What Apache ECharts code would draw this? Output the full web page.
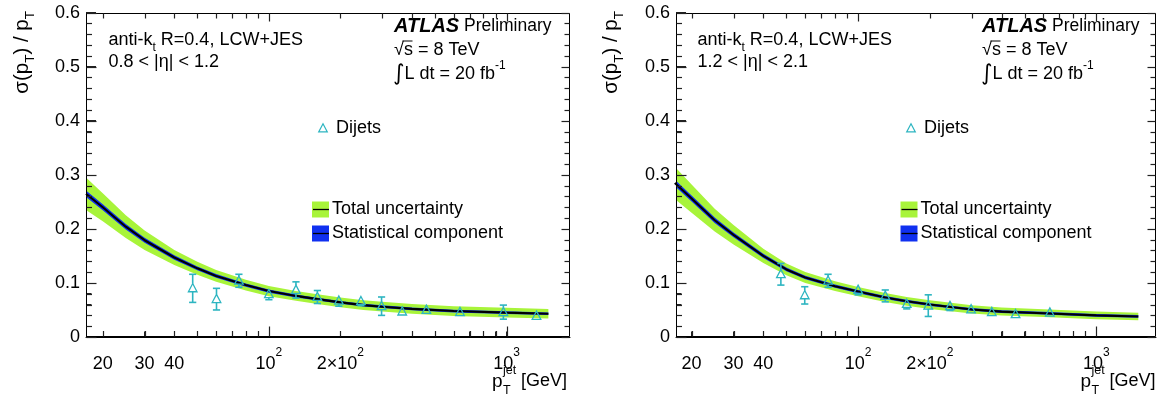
<!DOCTYPE html>
<html><head><meta charset="utf-8">
<script src="https://cdn.jsdelivr.net/npm/echarts@6/dist/echarts.min.js"></script>
<style>html,body{margin:0;padding:0;background:#fff}#c{width:1166px;height:399px}</style>
</head><body><div id="c"></div>
<script>
// ---------------- data ----------------
const curvePt   = [17, 20, 25, 30, 40, 50, 60, 80, 100, 130, 160, 200, 250, 300, 400, 600, 1000, 1500];
const centralL  = [0.265, 0.240, 0.204, 0.179, 0.147, 0.127, 0.113, 0.096, 0.085, 0.076, 0.070, 0.064, 0.059, 0.056, 0.052, 0.048, 0.045, 0.043];
const totErrL   = [0.030, 0.026, 0.021, 0.018, 0.014, 0.012, 0.011, 0.010, 0.0095, 0.009, 0.009, 0.009, 0.009, 0.009, 0.009, 0.009, 0.009, 0.0088];
const statErrL  = [0.006, 0.0055, 0.005, 0.0045, 0.004, 0.0035, 0.0033, 0.003, 0.003, 0.0028, 0.0027, 0.0026, 0.0025, 0.0025, 0.0025, 0.0025, 0.0025, 0.0025];
const centralR  = [0.285, 0.256, 0.216, 0.189, 0.150, 0.125, 0.110, 0.094, 0.084, 0.073, 0.066, 0.060, 0.055, 0.051, 0.047, 0.044, 0.040, 0.038];
const totErrR   = [0.030, 0.026, 0.021, 0.018, 0.013, 0.011, 0.010, 0.009, 0.0085, 0.0082, 0.008, 0.008, 0.0078, 0.0076, 0.0074, 0.0072, 0.007, 0.007];
const statErrR  = [0.006, 0.0055, 0.005, 0.0045, 0.004, 0.0035, 0.0033, 0.003, 0.003, 0.0028, 0.0027, 0.0026, 0.0025, 0.0025, 0.0025, 0.0025, 0.0025, 0.0025];

const dijetPtL  = [47.8, 60.2, 74.8, 100, 130, 160, 197, 244, 298, 364, 460, 637, 970, 1337];
const dijetValL = [0.090, 0.070, 0.104, 0.079, 0.087, 0.074, 0.067, 0.066, 0.057, 0.047, 0.050, 0.046, 0.046, 0.039];
const dijetErrL = [0.026, 0.020, 0.012, 0.010, 0.015, 0.012, 0.010, 0.008, 0.017, 0.007, 0.006, 0.006, 0.013, 0.006];
const dijetPtR  = [47.4, 59.7, 74.8, 100, 130, 160, 197, 243, 298, 364, 458, 638];
const dijetValR = [0.116, 0.077, 0.104, 0.087, 0.076, 0.061, 0.058, 0.057, 0.051, 0.046, 0.042, 0.045];
const dijetErrR = [0.020, 0.016, 0.012, 0.009, 0.011, 0.009, 0.020, 0.008, 0.007, 0.003, 0.007, 0.006];

const xLabelValues = [20, 30, 40, 100, 200, 1000];
const xLabelTexts  = ['{b|20}', '{b|30}', '{b|40}', '{b|10}{s|2}', '{b|2×10}{s|2}', '{b|10}{s|3}'];
const xMinorTicks  = [20, 30, 40, 50, 60, 70, 80, 90, 200, 300, 400, 500, 600, 700, 800, 900];
const xMajorTicks  = [100, 1000];
const yTickLabels  = ['0', '0.1', '0.2', '0.3', '0.4', '0.5', '0.6'];
const xRanges      = [[17, 1850], [17.2, 1780]];

// ---------------- styling ----------------
const FONT = "'Liberation Sans', Arial, Helvetica, sans-serif";
const GREEN = '#a8f43a', BLUE = '#1030f0', CYAN = '#2db5c1';
const BLACK = '#000', TICK = '#222';

const chart = echarts.init(document.getElementById('c'), null, {renderer: 'canvas'});

function xAxisFor(gi) {
  return {type: 'log', logBase: 10, gridIndex: gi, min: xRanges[gi][0], max: xRanges[gi][1], position: 'bottom',
    splitLine: {show: false}, axisLine: {show: true, onZero: false, lineStyle: {color: BLACK, width: 1}},
    axisTick: {show: true, inside: true, length: 5.5, customValues: xMinorTicks.concat(xMajorTicks), lineStyle: {color: TICK, width: 1}},
    axisLabel: {show: true, customValues: xLabelValues, margin: 10,
      formatter: v => { const i = xLabelValues.findIndex(x => Math.abs(x - v) < 1e-6); return i >= 0 ? xLabelTexts[i] : ''; },
      rich: {
        b: {fontFamily: FONT, fontSize: 18, color: BLACK, lineHeight: 26, verticalAlign: 'bottom'},
        s: {fontFamily: FONT, fontSize: 12, color: BLACK, lineHeight: 14, verticalAlign: 'top'}
      }}};
}
function yAxisFor(gi) {
  return {type: 'value', gridIndex: gi, min: 0, max: 0.6, interval: 0.1, position: 'left',
    splitLine: {show: false}, axisLine: {show: true, onZero: false, lineStyle: {color: BLACK, width: 1}},
    axisTick: {show: true, inside: true, length: 10, lineStyle: {color: TICK, width: 1}},
    minorTick: {show: true, splitNumber: 5, length: 5.5, lineStyle: {color: TICK, width: 1}},
    axisLabel: {show: true, margin: 6, fontFamily: FONT, fontSize: 18, color: BLACK,
      formatter: v => yTickLabels[Math.round(v * 10)]}};
}

function frameSeries(xi, yi) {
  return {type: 'custom', xAxisIndex: xi, yAxisIndex: yi, z: 20, silent: true, clip: false,
    data: [[100, 0.3]], encode: {x: 0, y: 1},
    renderItem: function (params, api) {
      const cs = params.coordSys;
      const L = Math.round(cs.x) + 0.5, R = Math.round(cs.x + cs.width) - 0.5;
      const T = Math.round(cs.y) + 0.5, B = Math.round(cs.y + cs.height) - 0.5;
      return {type: 'rect', shape: {x: L, y: T, width: R - L, height: B - T}, style: {stroke: BLACK, lineWidth: 1, fill: 'none'}};
    }};
}
function bandSeries(xi, yi, pts, center, err, color, z) {
  return {type: 'custom', xAxisIndex: xi, yAxisIndex: yi, z: z, clip: true, silent: true,
    data: [[pts[0], center[0]]], encode: {x: 0, y: 1},
    renderItem: function (params, api) {
      const up = [], lo = [];
      for (let i = 0; i < pts.length; i++) {
        up.push(api.coord([pts[i], center[i] + err[i]]));
        lo.push(api.coord([pts[i], center[i] - err[i]]));
      }
      return {type: 'polygon', shape: {points: up.concat(lo.reverse())}, style: {fill: color}};
    }};
}
function lineSeries(xi, yi, pts, center) {
  return {type: 'line', xAxisIndex: xi, yAxisIndex: yi, z: 4, silent: true, symbol: 'none', clip: true,
    data: pts.map((p, i) => [p, center[i]]), lineStyle: {color: BLACK, width: 2.1}, smooth: false};
}
function triPoints(cx, cy) { return [[cx, cy - 4.8], [cx + 4.3, cy + 3.4], [cx - 4.3, cy + 3.4]]; }
function dijetSeries(xi, yi, pts, vals, errs) {
  return {type: 'custom', xAxisIndex: xi, yAxisIndex: yi, z: 6, silent: true,
    data: pts.map((p, i) => [p, vals[i], errs[i]]), encode: {x: 0, y: 1},
    renderItem: function (params, api) {
      const x = api.value(0), v = api.value(1), e = api.value(2);
      const c = api.coord([x, v]), t = api.coord([x, v + e]), b = api.coord([x, v - e]);
      const cx = c[0], cy = c[1];
      const ch = [{type: 'polygon', shape: {points: triPoints(cx, cy)}, style: {stroke: CYAN, lineWidth: 1.3, fill: 'none'}}];
      const add = (x1, y1, x2, y2) => ch.push({type: 'line', shape: {x1: x1, y1: y1, x2: x2, y2: y2}, style: {stroke: CYAN, lineWidth: 1.6}});
      if (t[1] < cy - 5.5) { add(cx, t[1], cx, cy - 4.8); add(cx - 3.6, t[1], cx + 3.6, t[1]); }
      if (b[1] > cy + 4) { add(cx, cy + 3.4, cx, b[1]); add(cx - 3.6, b[1], cx + 3.6, b[1]); }
      return {type: 'group', children: ch};
    }};
}

// ---------------- annotations ----------------
function txt(x, y, text, extra) {
  return {type: 'text', x: x, y: y, silent: true, z: 100,
    style: Object.assign({text: text, fontFamily: FONT, fontSize: 18, fill: BLACK, align: 'left', verticalAlign: 'middle'}, extra || {})};
}
const richBase = {
  n: {fontFamily: FONT, fontSize: 18, color: BLACK, lineHeight: 28, verticalAlign: 'middle'},
  p: {fontFamily: FONT, fontSize: 17.5, color: BLACK, lineHeight: 28, verticalAlign: 'middle'},
  sub: {fontFamily: FONT, fontSize: 12, color: BLACK, lineHeight: 16, verticalAlign: 'bottom'},
  sup: {fontFamily: FONT, fontSize: 12, color: BLACK, lineHeight: 16, verticalAlign: 'top'},
  a: {fontFamily: FONT, fontSize: 20, color: BLACK, fontWeight: 'bold', fontStyle: 'italic', lineHeight: 28, verticalAlign: 'middle'},
  int: {fontFamily: 'DejaVu Sans', fontSize: 22, color: BLACK, lineHeight: 28, verticalAlign: 'middle'},
  yt: {fontFamily: FONT, fontSize: 20.5, color: BLACK, lineHeight: 30, verticalAlign: 'middle'},
  yts: {fontFamily: FONT, fontSize: 13.5, color: BLACK, lineHeight: 18, verticalAlign: 'bottom'}
};
function panelText(rBorder, etaText, o) {
  const g = [];
  g.push({type: 'text', x: o.ytX, y: 11, rotation: Math.PI / 2, silent: true, z: 100,
    style: {text: '{yt|σ(p}{yts|T}{yt|) / p}{yts|T}', rich: richBase, align: 'right', verticalAlign: 'middle'}});
  g.push(txt(o.annX, 40, '{n|anti-k}{sub|t}{n| R=0.4, LCW+JES}', {rich: richBase}));
  g.push(txt(o.annX, 62, etaText));
  g.push(txt(o.atX, 26, '{a|ATLAS}{p| Preliminary}', {rich: richBase}));
  g.push(txt(o.atX, 50, '√s = 8 TeV'));
  g.push({type: 'line', silent: true, z: 100, shape: {x1: o.atX + 8.5, y1: 41, x2: o.atX + 18.5, y2: 41}, style: {stroke: BLACK, lineWidth: 1}});
  g.push(txt(o.atX - 1, 74, '{int|∫}{n|L dt = 20 fb}{sup|-1}', {rich: richBase}));
  g.push({type: 'polygon', silent: true, z: 100, shape: {points: triPoints(o.djX, 128.5)}, style: {stroke: CYAN, lineWidth: 1.2, fill: 'none'}});
  g.push(txt(o.djX + 13, 128, 'Dijets'));
  g.push({type: 'rect', silent: true, z: 100, shape: {x: o.lgX, y: 201.5, width: 17, height: 16}, style: {fill: GREEN}});
  g.push({type: 'line', silent: true, z: 101, shape: {x1: o.lgX + 1, y1: 209.5, x2: o.lgX + 17, y2: 209.5}, style: {stroke: BLACK, lineWidth: 1.3}});
  g.push(txt(o.lgX + 20, 209.5, 'Total uncertainty'));
  g.push({type: 'rect', silent: true, z: 100, shape: {x: o.lgX, y: 225.5, width: 17, height: 16}, style: {fill: BLUE}});
  g.push({type: 'line', silent: true, z: 101, shape: {x1: o.lgX + 1, y1: 233.5, x2: o.lgX + 17, y2: 233.5}, style: {stroke: BLACK, lineWidth: 1.3}});
  g.push(txt(o.lgX + 20, 233.5, 'Statistical component'));
  g.push(txt(rBorder - 75, 382, 'p', {fontSize: 19}));
  g.push(txt(rBorder - 64, 371, 'jet', {fontSize: 12.5}));
  g.push(txt(rBorder - 64, 391, 'T', {fontSize: 12.5}));
  g.push(txt(rBorder, 381, '[GeV]', {align: 'right'}));
  return g;
}

const graphics = []
  .concat(panelText(567, '0.8 < |η| < 1.2', {ytX: 22, annX: 108.5, atX: 394, djX: 323, lgX: 312}))
  .concat(panelText(1155.5, '1.2 < |η| < 2.1', {ytX: 611, annX: 697.5, atX: 982, djX: 911, lgX: 900.5}));

const option = {
  animation: false,
  backgroundColor: '#fff',
  grid: [
    {left: 86, width: 484, top: 12.6, height: 324.4, containLabel: false, outerBoundsMode: 'none'},
    {left: 676, width: 480, top: 12.6, height: 324.4, containLabel: false, outerBoundsMode: 'none'}
  ],
  xAxis: [xAxisFor(0), xAxisFor(1)],
  yAxis: [yAxisFor(0), yAxisFor(1)],
  series: [
    bandSeries(0, 0, curvePt, centralL, totErrL, GREEN, 1),
    bandSeries(0, 0, curvePt, centralL, statErrL, BLUE, 2),
    lineSeries(0, 0, curvePt, centralL),
    dijetSeries(0, 0, dijetPtL, dijetValL, dijetErrL),
    frameSeries(0, 0),
    bandSeries(1, 1, curvePt, centralR, totErrR, GREEN, 1),
    bandSeries(1, 1, curvePt, centralR, statErrR, BLUE, 2),
    lineSeries(1, 1, curvePt, centralR),
    dijetSeries(1, 1, dijetPtR, dijetValR, dijetErrR),
    frameSeries(1, 1)
  ],
  graphic: graphics
};
chart.setOption(option);

// ---------------- ticks on all four sides, positions taken from the laid-out axes ----------------
try {
  const tickEls = [];
  [0, 1].forEach(gi => {
    const f = {xAxisIndex: gi, yAxisIndex: gi};
    const pxX = v => Math.round(chart.convertToPixel(f, [v, 0.3])[0]) + 0.5;
    const pxY = v => Math.round(chart.convertToPixel(f, [100, v])[1]) + 0.5;
    const L = Math.round(chart.convertToPixel(f, [xRanges[gi][0], 0])[0]) + 0.5;
    const R = Math.round(chart.convertToPixel(f, [xRanges[gi][1], 0])[0]) - 0.5;
    const B = Math.round(chart.convertToPixel(f, [100, 0])[1]) - 0.5;
    const T = Math.round(chart.convertToPixel(f, [100, 0.6])[1]) + 0.5;
    const seg = (x1, y1, x2, y2) => tickEls.push({type: 'line', silent: true, z: 120,
      shape: {x1: x1, y1: y1, x2: x2, y2: y2}, style: {stroke: TICK, lineWidth: 1.2}});
    xMinorTicks.forEach(v => { const x = pxX(v); seg(x, B, x, B - 5.5); seg(x, T, x, T + 5); });
    xMajorTicks.forEach(v => { const x = pxX(v); seg(x, B, x, B - 10); seg(x, T, x, T + 8); });
    const nMaj = yTickLabels.length - 1;
    for (let k = 0; k <= nMaj * 5; k++) {
      const y = pxY(k * 0.1 / 5);
      const major = (k % 5 === 0);
      seg(L, y, L + (major ? 10 : 5.5), y);
      seg(R, y, R - (major ? 8 : 5), y);
    }
  });
  chart.setOption({graphic: graphics.concat(tickEls)});
} catch (e) { /* keep the chart as drawn */ }
</script>
</body></html>
